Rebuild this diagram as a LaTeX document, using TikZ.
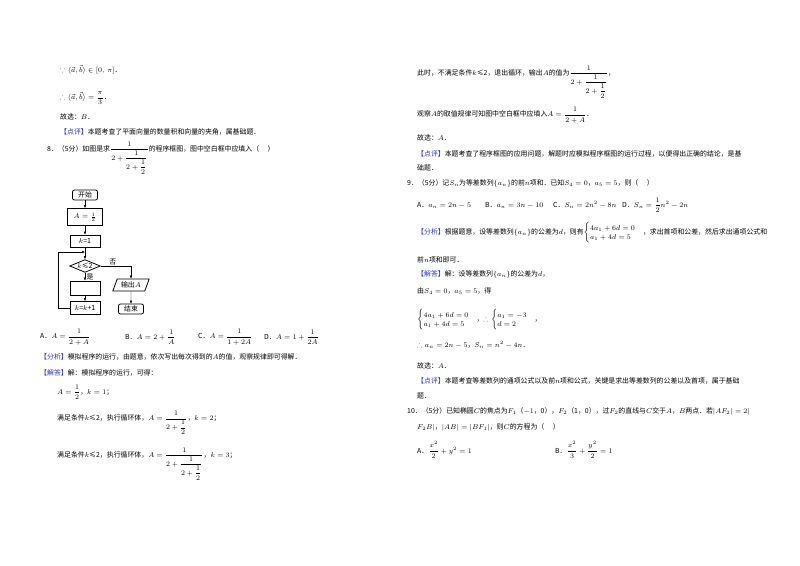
\documentclass[tikz,border=0pt]{standalone}
\usepackage{amsmath,amssymb}
\usepackage{fontspec}
\newfontfamily\cjk{Noto Sans CJK SC}
\usetikzlibrary{shapes.geometric,arrows.meta}
\definecolor{tagblue}{RGB}{40,50,220}
\newcommand\fs{\fontsize{6.9}{8}\selectfont\cjk}
\newcommand\bt[1]{{\color{tagblue}【#1】}}
\begin{document}
\begin{tikzpicture}[x=1pt,y=-1pt,
 txt/.style={anchor=west,inner sep=0pt,font=\fs},
 fbox/.style={draw,thick,minimum width=30pt,inner sep=1pt,font=\fs},
 rbox/.style={draw,thick,rounded corners=2pt,inner sep=1pt,minimum width=25pt,minimum height=10pt,font=\fs},
 arr/.style={-{Latex[length=3pt,width=2.5pt]},thin}]
\useasboundingbox (0,0) rectangle (800,565);
\fill[white] (0,0) rectangle (800,565);
% left column
\node[txt] (l1) at (60,70) {$\because\langle\vec a,\vec b\rangle\in[0,\ \pi]$．};
\node[txt] (l2) at (60,98) {$\therefore\langle\vec a,\vec b\rangle=\dfrac{\pi}{3}$．};
\node[txt] (l3) at (60,117) {故选：$B$．};
\node[txt] (l4) at (60,132) {\bt{点评}本题考查了平面向量的数量积和向量的夹角，属基础题．};
\node[txt] (l5) at (47,158) {8．（5分）如图是求$\dfrac{1}{2+\dfrac{1}{2+\dfrac12}}$的程序框图，图中空白框中应填入（\quad\ ）};
% flowchart
\node[rbox] (start) at (85,195) {开始};
\node[fbox,minimum width=35pt,minimum height=17pt] (a) at (85,217) {$A=\tfrac12$};
\node[fbox,minimum height=12pt] (k) at (85,241) {$k$=1};
\node[diamond,draw,thick,aspect=2.4,inner sep=0.3pt,font=\fs] (d) at (85,266) {$k$≤2};
\node[fbox,minimum height=14pt] (blank) at (85,288) {};
\node[fbox,minimum height=13pt] (inc) at (85,308) {$k$=$k$+1};
\node[trapezium,trapezium left angle=70,trapezium right angle=110,draw,thick,inner sep=2pt,minimum height=12pt,font=\fs] (out) at (131,285) {输出$A$};
\node[rbox] (end) at (131,309) {结束};
\coordinate (join) at (85,252);
\draw[arr] (start) -- (a);
\draw[arr] (a) -- (k);
\draw[arr] (k) -- (d);
\draw[arr] (d) -- (blank) node[pos=0.55,right,inner sep=1.5pt,font=\fs]{是};
\draw[arr] (blank) -- (inc);
\draw[arr] (inc.west) -- ++(-11,0) |- (join);
\draw[arr] (d.east) -| (out.north) node[pos=0.2,above,inner sep=1pt,font=\fs]{否};
\draw[arr] (out) -- (end);
% options
\node[txt] (o1) at (40,337) {A．$A=\dfrac{1}{2+A}$};
\node[txt] (o2) at (125,337) {B．$A=2+\dfrac{1}{A}$};
\node[txt] (o3) at (198,337) {C．$A=\dfrac{1}{1+2A}$};
\node[txt] (o4) at (264,337) {D．$A=1+\dfrac{1}{2A}$};
\node[txt] (l6) at (40,357) {\bt{分析}模拟程序的运行，由题意，依次写出每次得到的$A$的值，观察规律即可得解．};
\node[txt] (l7) at (40,373) {\bt{解答}解：模拟程序的运行，可得：};
\node[txt] (l8) at (57,392) {$A=\dfrac12$，$k=1$；};
\node[txt] (l9) at (57,423) {满足条件$k$≤2，执行循环体，$A=\dfrac{1}{2+\dfrac12}$，$k=2$；};
\node[txt] (l10) at (57,464) {满足条件$k$≤2，执行循环体，$A=\dfrac{1}{2+\dfrac{1}{2+\dfrac12}}$，$k=3$；};
% right column
\node[txt] (r1) at (417,82) {此时，不满足条件$k$≤2，退出循环，输出$A$的值为$\dfrac{1}{2+\dfrac{1}{2+\dfrac12}}$，};
\node[txt] (r2) at (417,115) {观察$A$的取值规律可知图中空白框中应填入$A=\dfrac{1}{2+A}$．};
\node[txt] (r3) at (417,138) {故选：$A$．};
\node[txt] (r4) at (417,154) {\bt{点评}本题考查了程序框图的应用问题，解题时应模拟程序框图的运行过程，以便得出正确的结论，是基};
\node[txt] (r5) at (417,168) {础题．};
\node[txt] (r6) at (407,183) {9．（5分）记$S_n$为等差数列$\{a_n\}$的前$n$项和．已知$S_4=0$，$a_5=5$，则（\quad\ ）};
\node[txt] (r7) at (417,205) {A．$a_n=2n-5$};
\node[txt] (r8) at (485,205) {B．$a_n=3n-10$};
\node[txt] (r9) at (553,205) {C．$S_n=2n^2-8n$};
\node[txt] (r10) at (622,205) {D．$S_n=\dfrac12n^2-2n$};
\node[txt] (r11) at (417,233) {\bt{分析}根据题意，设等差数列$\{a_n\}$的公差为$d$，则有$\begin{cases}4a_1+6d=0\\ a_1+4d=5\end{cases}$，求出首项和公差，然后求出通项公式和};
\node[txt] (r12) at (417,260) {前$n$项和即可．};
\node[txt] (r13) at (417,274) {\bt{解答}解：设等差数列$\{a_n\}$的公差为$d$，};
\node[txt] (r14) at (417,291) {由$S_4=0$，$a_5=5$，得};
\node[txt] (r15) at (417,320) {$\begin{cases}4a_1+6d=0\\ a_1+4d=5\end{cases}$，$\therefore\begin{cases}a_1=-3\\ d=2\end{cases}$，};
\node[txt] (r16) at (417,345) {$\therefore a_n=2n-5$，$S_n=n^2-4n$．};
\node[txt] (r17) at (417,366) {故选：$A$．};
\node[txt] (r18) at (417,381) {\bt{点评}本题考查等差数列的通项公式以及前$n$项和公式，关键是求出等差数列的公差以及首项，属于基础};
\node[txt] (r19) at (417,396) {题．};
\node[txt] (r20) at (407,411) {10．（5分）已知椭圆$C$的焦点为$F_1$（$-1$，0），$F_2$（1，0），过$F_2$的直线与$C$交于$A$，$B$两点．若$|AF_2|=2|$};
\node[txt] (r21) at (417,427) {$F_2B|$，$|AB|=|BF_1|$，则$C$的方程为（\quad\ ）};
\node[txt] (r22) at (417,450) {A．$\dfrac{x^2}{2}+y^2=1$};
\node[txt] (r23) at (555,450) {B．$\dfrac{x^2}{3}+\dfrac{y^2}{2}=1$};
\end{tikzpicture}
\end{document}
